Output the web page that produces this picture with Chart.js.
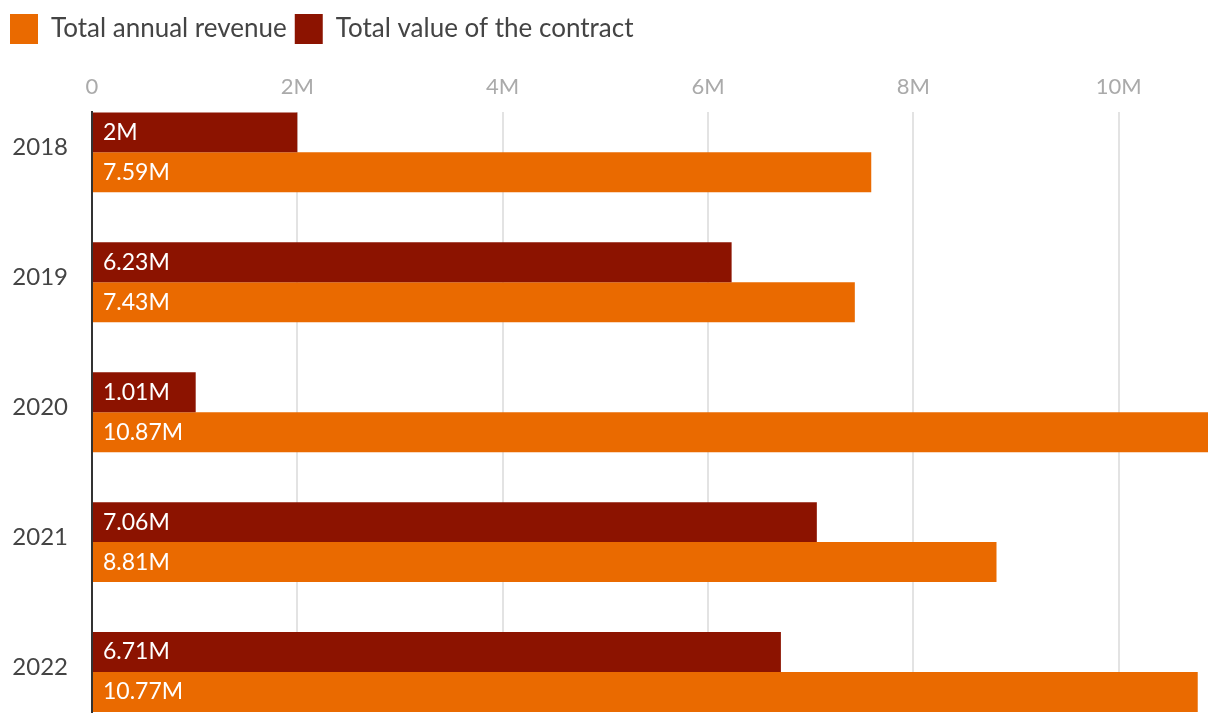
<!DOCTYPE html>
<html>
<head>
<meta charset="utf-8">
<script src="https://cdn.jsdelivr.net/npm/chart.js@4.4.1/dist/chart.umd.min.js"></script>
<style>
  html, body { margin: 0; padding: 0; background: #fff; }
  #wrap { width: 1220px; height: 722px; position: relative; }
</style>
</head>
<body>
<div id="wrap"><canvas id="revChart"></canvas></div>
<script>
// values in millions
const years = ['2018', '2019', '2020', '2021', '2022'];
const contractValue = [2, 6.23, 1.01, 7.06, 6.71];
const annualRevenue = [7.59, 7.43, 10.87, 8.81, 10.77];
const xTicks = [0, 2, 4, 6, 8, 10];

const FONT = 'Lato, "Noto Sans", sans-serif';

function fmtM(v) {
    return v === 0 ? '0' : v + 'M';
}

// white value labels drawn inside each bar, at its start
const barLabels = {
    id: 'barLabels',
    afterDatasetsDraw(chart) {
        const ctx = chart.ctx;
        ctx.save();
        ctx.fillStyle = '#ffffff';
        ctx.font = '23px ' + FONT;
        ctx.textAlign = 'left';
        ctx.textBaseline = 'middle';
        chart.data.datasets.forEach((ds, i) => {
            const meta = chart.getDatasetMeta(i);
            meta.data.forEach((bar, j) => {
                ctx.fillText(fmtM(ds.data[j]), bar.base + 10, bar.y);
            });
        });
        ctx.restore();
    }
};

const ctx = document.getElementById('revChart').getContext('2d');
new Chart(ctx, {
    type: 'bar',
    data: {
        labels: years,
        datasets: [
            {
                label: 'Total value of the contract',
                data: contractValue,
                backgroundColor: '#8c1300'
            },
            {
                label: 'Total annual revenue',
                data: annualRevenue,
                backgroundColor: '#ea6a00'
            }
        ]
    },
    options: {
        indexAxis: 'y',
        responsive: true,
        maintainAspectRatio: false,
        animation: false,
        layout: { padding: { left: 2, right: 12, top: 6, bottom: 10 } },
        datasets: {
            bar: { categoryPercentage: 80 / 130, barPercentage: 1.0, clip: false }
        },
        plugins: {
            legend: {
                position: 'top',
                align: 'start',
                reverse: true,
                labels: {
                    color: '#444',
                    font: { family: FONT, size: 26 },
                    boxWidth: 28,
                    boxHeight: 30,
                    padding: 8
                }
            },
            tooltip: { enabled: false }
        },
        scales: {
            x: {
                position: 'top',
                min: 0,
                max: Math.max(...annualRevenue),
                afterBuildTicks: (scale) => {
                    scale.ticks = xTicks.map(v => ({ value: v }));
                },
                afterFit: (scale) => { scale.height += 8; },
                ticks: {
                    color: '#aaa',
                    font: { family: FONT, size: 22 },
                    padding: 12,
                    callback: (v) => fmtM(v)
                },
                grid: { color: '#e3e3e3', lineWidth: 2, drawTicks: false },
                border: { display: false }
            },
            y: {
                afterFit: (scale) => {
                    scale.width = 90;
                    scale.paddingTop = 0;
                    scale.paddingBottom = 0;
                },
                // bands of 130px with the outer bars flush to the plot edges
                afterBuildTicks: (scale) => {
                    const edge = 0.5 - 25 / 130;
                    scale._startValue = -edge;
                    scale._valueRange = (years.length - 1) + 2 * edge;
                },
                ticks: {
                    color: '#444',
                    font: { family: FONT, size: 24 },
                    padding: 24,
                    labelOffset: -5
                },
                grid: { display: false, drawTicks: false },
                border: { display: true, color: '#333', width: 2 }
            }
        }
    },
    plugins: [barLabels]
});
</script>
</body>
</html>
